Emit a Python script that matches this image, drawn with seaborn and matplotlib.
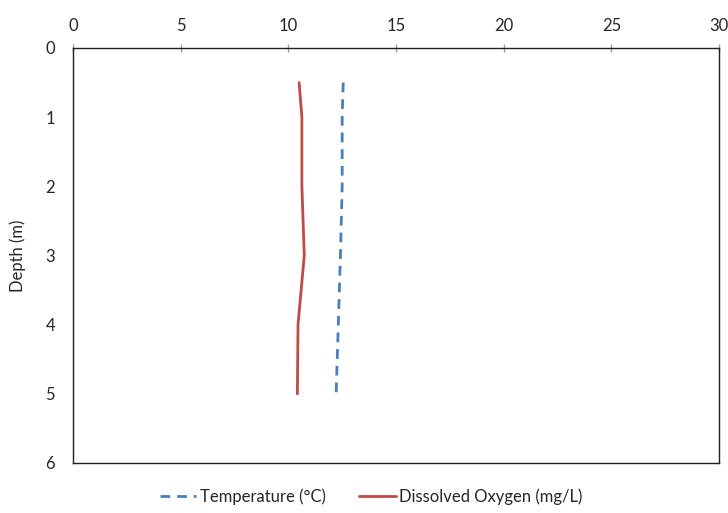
import matplotlib
matplotlib.use("Agg")
import matplotlib.pyplot as plt
import seaborn as sns
import pandas as pd

depth = [0.5, 1, 2, 3, 4, 5]
temperature = [12.55, 12.5, 12.5, 12.42, 12.32, 12.22]
dissolved_oxygen = [10.5, 10.63, 10.63, 10.74, 10.45, 10.42]
x_ticks = [0, 5, 10, 15, 20, 25, 30]
y_ticks = [0, 1, 2, 3, 4, 5, 6]

sns.set_style("white")
plt.rcParams['font.family'] = ['Lato', 'DejaVu Sans']

df = pd.DataFrame({
    "Depth": depth * 2,
    "Value": temperature + dissolved_oxygen,
    "Series": ["Temperature (°C)"] * len(depth) + ["Dissolved Oxygen (mg/L)"] * len(depth),
})

fig = plt.figure(figsize=(7.28, 5.13), dpi=100)
ax = fig.add_axes([73/728, 1 - 463/513, (719-73)/728, (463-48)/513])

palette = {"Temperature (°C)": "#4A7EBB", "Dissolved Oxygen (mg/L)": "#BE4B48"}
dashes = {"Temperature (°C)": (3.5, 2.5), "Dissolved Oxygen (mg/L)": ""}
sns.lineplot(data=df, x="Value", y="Depth", hue="Series", style="Series",
             palette=palette, dashes=dashes, sort=False, orient="y",
             linewidth=2, ax=ax, legend=True)

fs = 12
ax.set_xlim(0, 30)
ax.set_ylim(6, 0)
ax.set_xticks(x_ticks)
ax.set_yticks(y_ticks)
ax.xaxis.tick_top()
ax.set_xlabel("")
ax.set_ylabel("Depth (m)", fontsize=fs, labelpad=14)
ax.tick_params(axis="both", labelsize=fs, length=5, color="#a0a0a0", width=1,
               direction="out", pad=8)
ax.tick_params(axis="x", direction="inout", length=6, pad=7)
for s in ax.spines.values():
    s.set_visible(True)
    s.set_color("#202020")
    s.set_linewidth(1)

handles, labels = ax.get_legend_handles_labels()
ax.legend(handles, labels, loc="center", bbox_to_anchor=((371-73)/646, -(497-463)/415),
          ncol=2, frameon=False, fontsize=fs, handlelength=2.2,
          columnspacing=2.0, handletextpad=0.2)

fig.savefig("out.png", dpi=100)
